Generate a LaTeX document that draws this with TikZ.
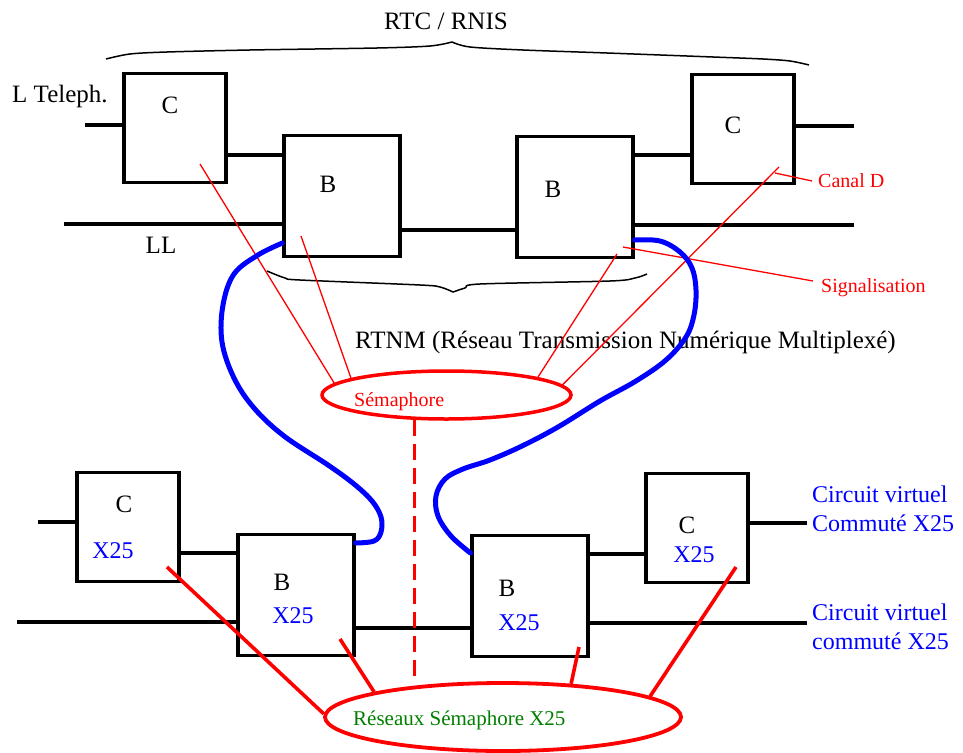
\documentclass[tikz,border=0pt]{standalone}
\usepackage{fontspec}
\setmainfont{Liberation Serif}
\usetikzlibrary{shapes.geometric}

\begin{document}
\begin{tikzpicture}[
  x=1pt, y=-1pt,
  every node/.style={inner sep=0pt},
  cbox/.style={
    rectangle, draw=black, line width=3.2pt,
    minimum width=102pt, minimum height=109pt
  },
  bbox/.style={cbox, minimum width=116pt, minimum height=121pt},
  wire/.style={line width=3.2pt},
  sig/.style={red, line width=1.3pt},
  xsig/.style={red, line width=3.6pt},
  loop/.style={blue, line width=5pt, line join=round, line cap=round},
  semadash/.style={red, line width=2.5pt, dash pattern=on 16pt off 8pt},
  brace/.style={line width=1.5pt},
  lbl/.style={font=\fontsize{25}{30}\selectfont},
  xlbl/.style={blue, font=\fontsize{24}{29}\selectfont},
  note/.style={red, font=\fontsize{20}{24}\selectfont},
]
\useasboundingbox (0,0) rectangle (963,752);

%% Top network: RTC / RNIS
\node[lbl] (rtc) at (446,21) {RTC / RNIS};
\draw[brace] plot[smooth] coordinates {(106,59) (130,54) (167,52) (250,50) (377,48) (430,46) (452,42)}
  -- plot[smooth] coordinates {(452,42) (470,47) (523,50) (607,53) (713,57) (763,59) (790,61) (809,65)};

\node[cbox] (rtcC1) at (175,128) {};
\node[bbox] (rtcB1) at (342,196) {};
\node[bbox] (rtcB2) at (575,197) {};
\node[cbox] (rtcC2) at (743,129) {};

\node[lbl] (rtcC1txt) at (170,105) {C};
\node[lbl] (rtcB1txt) at (328,184) {B};
\node[lbl] (rtcB2txt) at (553,189) {B};
\node[lbl] (rtcC2txt) at (733,125) {C};

\node[lbl, anchor=west] (teleph) at (12,96) {L Teleph.};
\node[lbl] (ll) at (161,245) {LL};

\coordinate (telIn) at (85,125);
\coordinate (llIn) at (64,224);
\coordinate (telOut) at (854,126);
\coordinate (llOut) at (854,225);

\draw[wire] (telIn) -- (telIn -| rtcC1.west);
\draw[wire] (rtcC1.east |- 0,155) -- (rtcB1.west |- 0,155);
\draw[wire] (llIn) -- (llIn -| rtcB1.west);
\draw[wire] (rtcB1.east |- 0,230) -- (rtcB2.west |- 0,230);
\draw[wire] (rtcB2.east |- 0,155) -- (rtcC2.west |- 0,155);
\draw[wire] (rtcC2.east |- telOut) -- (telOut);
\draw[wire] (rtcB2.east |- llOut) -- (llOut);

\draw[brace] plot[smooth] coordinates {(267,271) (285,278) (300,280) (420,285) (440,287) (453,292)}
  -- plot[smooth] coordinates {(453,292) (465,288) (480,284) (610,281) (635,278) (647,274)};
\node[lbl, anchor=west] (rtnm) at (355,342) {RTNM (Réseau Transmission Numérique Multiplexé)};

%% Signalling network
\node[ellipse, draw=red, line width=3.5pt, minimum width=249pt, minimum height=48pt] (sema) at (446.5,395) {};
\node[note, anchor=west] (semaTxt) at (354,402) {Sémaphore};
\node[note, anchor=west] (canalD) at (818,181) {Canal D};
\node[note, anchor=west] (signal) at (821,288) {Signalisation};

\coordinate (sC1) at (200,164);
\coordinate (sB1) at (301,236);
\coordinate (sB2) at (617,254);
\coordinate (sC2) at (779,167);
\coordinate (canalTick) at (775,173);
\coordinate (signalTick) at (623,247);

\draw[sig] (sC1) -- (sema.174.6);
\draw[sig] (sB1) -- (sema.170.7);
\draw[sig] (sB2) -- (sema.11.5);
\draw[sig] (sC2) -- (sema.5.3);
\draw[sig] (canalTick) -- ([xshift=-6pt]canalD.west);
\draw[sig] (signalTick) -- ([xshift=-8pt, yshift=7pt]signal.west);

%% Bottom network: X25
\node[cbox] (xC1) at (128,527) {};
\node[bbox] (xB1) at (296,595) {};
\node[bbox] (xB2) at (530,596) {};
\node[cbox] (xC2) at (697,528) {};

\node[lbl] (xC1txt) at (124,504) {C};
\node[xlbl] (xC1x) at (113,551) {X25};
\node[lbl] (xB1txt) at (282,582) {B};
\node[xlbl] (xB1x) at (293,616) {X25};
\node[lbl] (xB2txt) at (507,588) {B};
\node[xlbl] (xB2x) at (519,623) {X25};
\node[lbl] (xC2txt) at (687,525) {C};
\node[xlbl] (xC2x) at (694,555) {X25};

\node[xlbl, anchor=west, align=left] (cvc1) at (812,509) {Circuit virtuel\\Commuté X25};
\node[xlbl, anchor=west, align=left] (cvc2) at (812,627) {Circuit virtuel\\commuté X25};

\coordinate (xtelIn) at (38,522);
\coordinate (xllIn) at (17,622);
\coordinate (xtelOut) at (807,523);
\coordinate (xllOut) at (807,623);

\draw[wire] (xtelIn) -- (xtelIn -| xC1.west);
\draw[wire] (xC1.east |- 0,553) -- (xB1.west |- 0,553);
\draw[wire] (xllIn) -- (xllIn -| xB1.west);
\draw[wire] (xB1.east |- 0,628) -- (xB2.west |- 0,628);
\draw[wire] (xB2.east |- 0,554) -- (xC2.west |- 0,554);
\draw[wire] (xC2.east |- xtelOut) -- (xtelOut);
\draw[wire] (xB2.east |- xllOut) -- (xllOut);

%% X25 signalling network
\node[ellipse, draw=red, line width=3.8pt, minimum width=356pt, minimum height=68pt] (semaX) at (503,717) {};
\node[font=\fontsize{21}{25}\selectfont, text=green!50!black, anchor=west] (semaXTxt) at (353,720) {Réseaux Sémaphore X25};

\coordinate (xsC1) at (167,567);
\coordinate (xsB1) at (340,639);
\coordinate (xsB2) at (579,647);
\coordinate (xsC2) at (736,567);

\draw[xsig] (xsC1) -- (semaX.179);
\draw[xsig] (xsB1) -- (semaX.169.6);
\draw[xsig] (xsB2) -- (semaX.26.3);
\draw[xsig] (xsC2) -- (semaX.8.7);
\draw[semadash] (sema.218.3) -- (sema.218.3 |- semaX.north);

%% Blue loops between the two networks
\draw[loop] plot[smooth, tension=0.6] coordinates {(rtcB1.west |- 0,243) (258,255) (234,274) (223,305)
  (222,342) (234,378) (254,408) (284,436) (328,465) (354,484) (372,501) (381,517) (381,532) (374,541)
  (xB1.east |- 0,543)};
\draw[loop] plot[smooth, tension=0.6] coordinates {(rtcB2.east |- 0,240) (660,241) (680,252) (692,268)
  (696,290) (694,315) (686,337) (666,360) (636,381) (600,401) (558,427) (522,446) (490,460) (463,469)
  (445,479) (436,496) (438,516) (451,536) (xB2.west |- 0,553)};

\end{tikzpicture}
\end{document}
